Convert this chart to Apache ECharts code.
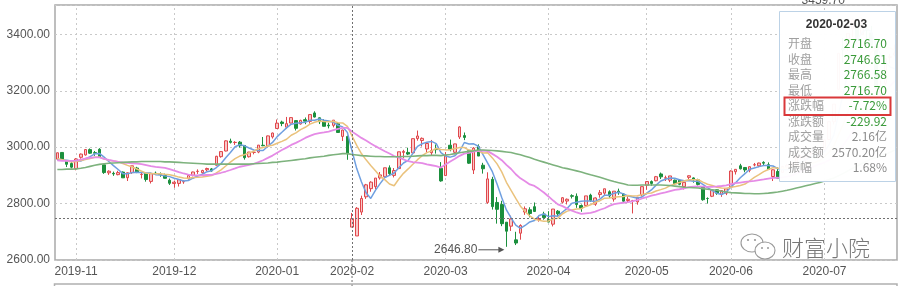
<!DOCTYPE html>
<html><head><meta charset="utf-8">
<script src="https://cdn.jsdelivr.net/npm/echarts/dist/echarts.min.js"></script>
<style>html,body{margin:0;padding:0;background:#fff}#c{width:900px;height:286px}</style>
</head><body><div id="c"></div>
<script>
const dates = ['2019-10-28','2019-10-29','2019-10-30','2019-10-31',
'2019-11-01','2019-11-04','2019-11-05','2019-11-06','2019-11-07','2019-11-08','2019-11-11','2019-11-12','2019-11-13','2019-11-14','2019-11-15','2019-11-18','2019-11-19','2019-11-20','2019-11-21','2019-11-22','2019-11-25','2019-11-26','2019-11-27','2019-11-28','2019-11-29',
'2019-12-02','2019-12-03','2019-12-04','2019-12-05','2019-12-06','2019-12-09','2019-12-10','2019-12-11','2019-12-12','2019-12-13','2019-12-16','2019-12-17','2019-12-18','2019-12-19','2019-12-20','2019-12-23','2019-12-24','2019-12-25','2019-12-26','2019-12-27','2019-12-30','2019-12-31',
'2020-01-02','2020-01-03','2020-01-06','2020-01-07','2020-01-08','2020-01-09','2020-01-10','2020-01-13','2020-01-14','2020-01-15','2020-01-16','2020-01-17','2020-01-20','2020-01-21','2020-01-22','2020-01-23',
'2020-02-03','2020-02-04','2020-02-05','2020-02-06','2020-02-07','2020-02-10','2020-02-11','2020-02-12','2020-02-13','2020-02-14','2020-02-17','2020-02-18','2020-02-19','2020-02-20','2020-02-21','2020-02-24','2020-02-25','2020-02-26','2020-02-27','2020-02-28',
'2020-03-02','2020-03-03','2020-03-04','2020-03-05','2020-03-06','2020-03-09','2020-03-10','2020-03-11','2020-03-12','2020-03-13','2020-03-16','2020-03-17','2020-03-18','2020-03-19','2020-03-20','2020-03-23','2020-03-24','2020-03-25','2020-03-26','2020-03-27','2020-03-30','2020-03-31',
'2020-04-01','2020-04-02','2020-04-03','2020-04-07','2020-04-08','2020-04-09','2020-04-10','2020-04-13','2020-04-14','2020-04-15','2020-04-16','2020-04-17','2020-04-20','2020-04-21','2020-04-22','2020-04-23','2020-04-24','2020-04-27','2020-04-28','2020-04-29','2020-04-30',
'2020-05-06','2020-05-07','2020-05-08','2020-05-11','2020-05-12','2020-05-13','2020-05-14','2020-05-15','2020-05-18','2020-05-19','2020-05-20','2020-05-21','2020-05-22','2020-05-25','2020-05-26','2020-05-27','2020-05-28','2020-05-29',
'2020-06-01','2020-06-02','2020-06-03','2020-06-04','2020-06-05','2020-06-08','2020-06-09','2020-06-10','2020-06-11','2020-06-12','2020-06-15','2020-06-16','2020-06-17','2020-06-18','2020-06-19','2020-06-22','2020-06-23','2020-06-24','2020-06-29','2020-06-30',
'2020-07-01','2020-07-02','2020-07-03','2020-07-06','2020-07-07','2020-07-08','2020-07-09','2020-07-10','2020-07-13','2020-07-14','2020-07-15','2020-07-16','2020-07-17','2020-07-20','2020-07-21','2020-07-22'];

const open = [2957.6,2981.3,2950.0,2942.0,
2924.0,2964.1,2972.4,2991.3,2980.6,2992.5,2937.3,2909.0,2907.2,2902.6,2911.6,2891.8,2909.6,2926.0,2903.0,2907.2,2878.6,2907.6,2904.6,2899.7,2882.9,
2871.0,2871.5,2877.0,2887.9,2900.1,2914.0,2909.5,2919.8,2923.0,2935.8,2966.4,2986.4,3021.3,3016.4,3017.8,3006.0,2966.1,2981.4,2982.6,3006.8,3004.3,3036.4,
3066.3,3089.0,3070.9,3085.5,3094.2,3082.1,3097.5,3091.4,3121.3,3104.1,3092.6,3078.0,3077.3,3083.0,3038.0,3037.9,
2716.7,2685.27,2769.9,2824.0,2852.9,2860.0,2891.0,2895.0,2926.8,2899.9,2924.0,2981.5,2981.4,2979.8,3030.4,3023.7,2993.6,2980.3,2992.5,2924.9,
2899.3,3006.9,2981.8,3036.0,3041.0,2987.2,2918.9,3001.8,2936.0,2804.2,2886.0,2804.0,2797.0,2734.0,2720.0,2671.4,2695.0,2770.0,2778.0,2789.0,2743.0,2763.0,
2743.5,2727.0,2773.0,2805.0,2809.0,2828.0,2826.0,2793.0,2793.0,2830.0,2798.0,2832.0,2837.0,2842.0,2816.0,2844.0,2834.0,2811.0,2809.0,2806.0,2831.0,
2865.0,2878.0,2881.0,2905.0,2890.0,2883.0,2883.0,2883.0,2860.0,2893.0,2891.0,2884.0,2860.0,2818.0,2826.0,2849.0,2833.0,2837.0,
2859.0,2913.0,2934.0,2928.0,2918.0,2937.0,2934.0,2946.0,2938.0,2896.0,2914.0,2910.0,2929.0,2933.0,2937.0,2963.0,2955.0,2976.0,2970.0,2966.0,
2991.0,3027.0,3090.0,3205.0,3350.0,3365.0,3420.0,3437.0,3399.0,3416.0,3405.0,3357.0,3193.0,3226.0,3318.0,3327.0];

const high = [2980.8,2982.6,2954.1,2948.2,
2961.3,2977.4,2993.5,2995.4,2986.5,2996.4,2937.3,2918.0,2913.3,2916.2,2913.9,2910.3,2934.0,2930.3,2911.9,2911.5,2906.2,2913.6,2910.4,2906.3,2888.8,
2881.4,2885.3,2882.4,2903.3,2913.1,2921.3,2920.0,2927.3,2926.2,2969.3,2985.1,3024.2,3030.2,3021.4,3021.6,3006.9,2983.3,2986.8,3007.5,3036.1,3041.0,3051.7,
3098.1,3093.8,3107.2,3105.4,3094.2,3097.3,3105.2,3115.6,3127.2,3105.3,3099.2,3086.6,3096.0,3089.0,3062.0,3041.0,
2766.58,2787.57,2828.0,2869.8,2879.2,2890.5,2912.0,2927.0,2935.4,2926.1,2983.7,2990.6,2998.0,3030.2,3058.9,3034.4,3013.7,3025.6,3009.6,2947.1,
2982.5,3026.8,3012.0,3074.3,3052.0,2989.2,3000.3,3010.0,2944.5,2910.9,2894.9,2823.1,2809.9,2734.6,2757.0,2700.0,2726.6,2789.9,2787.0,2804.0,2758.0,2771.0,
2773.0,2780.8,2777.0,2823.0,2818.0,2833.0,2836.0,2797.0,2827.3,2835.0,2822.0,2848.0,2852.6,2847.0,2844.0,2853.0,2837.0,2826.0,2813.0,2823.0,2860.1,
2879.0,2882.0,2898.0,2910.0,2899.0,2898.1,2885.0,2887.0,2877.0,2900.0,2893.0,2888.0,2860.0,2822.0,2847.0,2851.0,2848.0,2854.0,
2918.0,2922.0,2941.0,2929.0,2932.0,2944.0,2945.0,2950.0,2946.0,2921.0,2928.0,2934.0,2940.0,2947.0,2968.0,2972.0,2973.0,2985.0,2983.0,2987.0,
3026.0,3091.0,3153.0,3333.0,3387.0,3404.0,3456.0,3446.0,3459.7,3431.0,3430.0,3375.0,3237.0,3314.2,3331.0,3364.0];

const low = [2955.4,2952.6,2929.5,2924.6,
2918.0,2959.2,2970.1,2976.2,2969.2,2964.0,2905.3,2901.7,2898.3,2900.2,2890.9,2880.0,2905.4,2908.0,2889.2,2877.7,2871.2,2903.4,2895.0,2889.0,2866.0,
2856.0,2860.4,2870.1,2885.0,2896.6,2905.2,2906.0,2915.3,2913.0,2935.0,2962.7,2985.2,3013.0,3008.0,2998.2,2955.7,2963.2,2974.6,2978.6,3003.6,2998.8,3030.5,
3066.3,3074.5,3065.3,3084.3,3059.1,3080.1,3081.4,3083.6,3105.2,3082.0,3073.4,3066.6,3070.1,3052.0,3022.0,2955.3,
2716.7,2685.27,2759.6,2816.5,2842.0,2850.8,2885.0,2893.0,2899.8,2892.7,2924.0,2960.8,2971.9,2979.8,3023.0,3002.4,2982.0,2971.9,2977.2,2877.5,
2899.3,2985.4,2974.4,3029.0,3025.0,2940.7,2904.8,2968.5,2906.3,2799.0,2778.7,2729.0,2720.0,2646.8,2703.0,2653.0,2672.0,2760.0,2751.0,2770.0,2736.0,2743.0,
2734.0,2719.0,2755.0,2800.0,2797.0,2818.0,2785.0,2771.0,2788.0,2806.0,2792.0,2821.0,2830.0,2820.0,2807.0,2831.0,2804.0,2805.0,2765.0,2796.0,2825.0,
2849.0,2863.0,2879.0,2887.0,2880.0,2876.0,2866.0,2865.0,2850.0,2887.0,2874.0,2864.0,2810.0,2800.0,2823.0,2831.0,2824.0,2830.0,
2859.0,2903.0,2921.0,2911.0,2911.0,2932.0,2929.0,2936.0,2919.0,2880.0,2887.0,2910.0,2924.0,2926.0,2933.0,2955.0,2942.0,2970.0,2958.0,2964.0,
2983.0,3027.0,3080.0,3205.0,3298.0,3341.0,3390.0,3372.0,3398.0,3375.0,3356.0,3205.0,3174.0,3218.0,3296.0,3322.0];

const close = [2980.05,2954.18,2939.32,2929.06,
2958.20,2975.49,2991.56,2978.60,2978.71,2964.18,2909.97,2914.82,2905.24,2909.87,2891.34,2909.20,2933.99,2911.05,2903.64,2885.29,2906.17,2907.06,2903.19,2889.69,2871.98,
2875.81,2884.70,2878.12,2899.47,2912.01,2914.48,2917.32,2924.42,2915.70,2967.68,2984.39,3022.42,3017.04,3017.07,3004.94,2962.75,2982.68,2981.88,3007.35,3005.04,3040.02,3050.12,
3085.20,3083.79,3083.41,3104.80,3066.89,3094.88,3092.29,3115.57,3106.82,3090.04,3074.08,3075.50,3095.79,3052.14,3060.75,2976.53,
2746.61,2783.29,2818.09,2866.51,2875.96,2890.49,2901.67,2926.90,2906.07,2917.01,2983.62,2984.97,2975.40,3030.15,3039.67,3031.23,3013.05,2987.93,2991.33,2880.30,
2970.93,2992.90,3011.67,3071.68,3034.51,2943.29,2996.76,2968.52,2923.49,2887.43,2789.25,2779.64,2728.76,2702.13,2745.62,2660.17,2722.44,2781.59,2764.91,2772.20,2747.21,2750.30,
2734.52,2780.64,2763.99,2820.76,2815.37,2825.90,2796.63,2783.05,2827.28,2811.17,2819.94,2838.49,2852.55,2827.01,2843.98,2838.50,2808.53,2815.49,2810.02,2822.44,2860.08,
2878.14,2871.52,2895.34,2894.80,2891.56,2898.05,2870.34,2868.46,2875.42,2898.58,2883.74,2867.92,2813.77,2817.97,2846.55,2836.80,2846.22,2852.35,
2915.43,2921.40,2923.37,2919.25,2930.80,2937.77,2943.75,2943.32,2920.90,2919.74,2890.03,2931.75,2935.87,2939.32,2967.63,2965.27,2970.62,2979.55,2961.52,2984.67,
3025.98,3090.57,3152.81,3332.88,3345.34,3403.44,3450.59,3383.32,3443.29,3414.62,3361.30,3210.10,3214.13,3314.15,3320.90,3333.16];

const ma5 = [2954.2,2954.2,2953.8,2951.4,2952.0,2951.0,2958.6,2966.6,2976.6,2977.8,
2964.8,2949.4,2934.6,2920.8,2906.2,2906.0,2909.8,2911.0,2909.8,2908.6,
2908.0,2902.6,2901.0,2898.2,2895.6,2889.6,2885.2,2880.2,2882.0,2890.0,
2897.6,2904.0,2913.2,2916.6,2927.8,2941.8,2962.8,2981.4,3001.6,3009.0,
3004.8,2997.0,2990.0,2988.0,2988.0,3003.4,3016.8,3037.4,3052.8,3068.4,
3081.4,3084.8,3086.8,3088.4,3095.0,3095.4,3100.0,3095.8,3092.6,3088.6,
3077.6,3071.8,3052.4,2986.6,2924.0,2877.2,2838.4,2818.2,2846.8,2870.6,
2892.4,2900.2,2908.4,2927.2,2943.8,2953.4,2978.2,3002.8,3012.2,3017.8,
3020.4,3012.6,2980.6,2968.6,2964.6,2969.4,2985.6,3016.6,3011.0,3011.8,
3003.2,2973.4,2943.8,2913.0,2869.6,2821.6,2777.4,2749.2,2723.4,2711.8,
2722.4,2735.0,2740.2,2757.6,2763.2,2753.8,2757.0,2755.4,2770.2,2783.2,
2801.4,2804.6,2808.4,2809.6,2808.8,2807.6,2815.8,2829.8,2829.8,2836.4,
2840.2,2834.4,2826.8,2823.4,2819.0,2823.2,2837.0,2848.4,2865.4,2880.0,
2886.4,2890.4,2890.0,2884.6,2880.6,2882.0,2879.2,2878.8,2868.0,2856.6,
2846.2,2836.8,2832.4,2840.0,2859.4,2874.2,2891.4,2906.0,2921.8,2926.4,
2931.0,2935.0,2935.4,2933.2,2923.6,2921.2,2919.8,2923.4,2933.0,2948.0,
2955.8,2964.6,2969.2,2972.6,2984.8,3008.8,3043.4,3117.6,3189.6,3265.0,
3337.0,3383.0,3405.0,3419.0,3410.6,3362.4,3328.6,3302.8,3284.0,3278.4];

const ma10 = [2959.6,2955.8,2951.9,2947.1,2949.1,2952.6,2956.4,2960.2,2964.0,2964.9,
2957.9,2954.0,2950.6,2948.7,2942.0,2935.4,2929.6,2922.8,2915.3,2907.4,
2907.0,2906.2,2906.0,2904.0,2902.1,2898.8,2893.9,2890.6,2890.1,2892.8,
2893.6,2894.6,2896.7,2899.3,2908.9,2919.7,2933.4,2947.3,2959.1,2968.4,
2973.3,2979.9,2985.7,2994.8,2998.5,3004.1,3006.9,3013.7,3020.4,3028.2,
3042.4,3050.8,3062.1,3070.6,3081.7,3088.4,3092.4,3091.3,3090.5,3091.8,
3086.5,3085.9,3074.1,3039.6,3006.3,2977.4,2955.1,2935.3,2916.7,2897.3,
2884.8,2869.3,2863.3,2887.0,2907.2,2922.9,2939.2,2955.6,2969.7,2980.8,
2986.9,2995.4,2991.7,2990.4,2991.2,2994.9,2999.1,2998.6,2989.8,2988.2,
2986.3,2979.5,2980.2,2962.0,2940.7,2912.4,2875.4,2846.5,2818.2,2790.7,
2772.0,2756.2,2744.7,2740.5,2737.5,2738.1,2746.0,2747.8,2763.9,2773.2,
2777.6,2780.8,2781.9,2789.9,2796.0,2804.5,2810.2,2819.1,2819.7,2822.6,
2823.9,2825.1,2828.3,2826.6,2827.7,2831.7,2835.7,2837.6,2844.4,2849.5,
2854.8,2863.7,2869.2,2875.0,2880.3,2884.2,2884.8,2884.4,2876.3,2868.6,
2864.1,2858.0,2855.6,2854.0,2858.0,2860.2,2864.1,2869.2,2880.9,2892.9,
2902.6,2913.2,2920.7,2927.5,2925.0,2926.1,2927.4,2929.4,2933.1,2935.8,
2938.5,2942.2,2946.3,2952.8,2966.4,2982.3,3004.0,3043.4,3081.1,3124.9,
3172.9,3213.2,3261.3,3304.3,3337.8,3349.7,3355.8,3353.9,3351.5,3344.5];

const ma20 = [2953.5,2951.9,2951.1,2951.1,2952.4,2955.9,2959.8,2962.5,2964.1,2963.7,
2958.8,2954.9,2951.3,2947.9,2945.6,2944.0,2943.0,2941.5,2939.7,2936.2,
2932.5,2930.1,2928.3,2926.4,2922.1,2917.1,2911.8,2906.7,2902.7,2900.1,
2900.3,2900.4,2901.4,2901.7,2905.5,2909.3,2913.7,2919.0,2924.6,2930.6,
2933.5,2937.3,2941.2,2947.1,2953.7,2961.9,2970.2,2980.5,2989.8,2998.3,
3007.9,3015.4,3023.9,3032.7,3040.1,3046.3,3049.7,3052.5,3055.5,3060.0,
3064.5,3068.4,3068.1,3055.1,3044.0,3032.9,3023.8,3013.3,3003.6,2994.6,
2985.7,2977.6,2968.7,2963.3,2956.8,2950.2,2947.2,2945.5,2943.2,2939.0,
2935.9,2932.4,2927.5,2938.7,2949.2,2958.9,2969.2,2977.1,2979.8,2984.5,
2986.6,2987.5,2986.0,2976.2,2966.0,2953.7,2937.3,2922.6,2904.0,2889.5,
2879.2,2867.9,2862.5,2851.3,2839.1,2825.3,2810.7,2797.2,2791.1,2782.0,
2774.8,2768.5,2763.3,2765.2,2766.8,2771.3,2778.1,2783.5,2791.8,2797.9,
2800.8,2803.0,2805.1,2808.3,2811.9,2818.1,2823.0,2828.4,2832.1,2836.1,
2839.4,2844.4,2848.8,2850.8,2854.0,2858.0,2860.3,2861.0,2860.4,2859.1,
2859.5,2860.9,2862.4,2864.5,2869.2,2872.2,2874.5,2876.8,2878.6,2880.8,
2883.4,2885.6,2888.2,2890.8,2891.5,2893.2,2895.8,2899.3,2907.0,2914.4,
2920.6,2927.7,2933.5,2940.2,2945.7,2954.2,2965.7,2986.4,3007.1,3030.4,
3055.7,3077.7,3103.8,3128.6,3152.1,3166.0,3179.9,3198.7,3216.3,3234.7];

const ma60 = [2921,2921,2922,2922,2923,2925,2928,2932,2936,2939,
2941,2943,2944,2945,2946,2947,2948,2948,2949,2949,
2949,2949,2949,2948,2948,2947,2946,2945,2944,2943,
2942,2941,2940,2940,2940,2940,2940,2940,2940,2940,
2940,2940,2941,2942,2943,2944,2946,2947,2949,2951,
2953,2955,2957,2959,2962,2964,2966,2968,2971,2973,
2975,2977,2977,2974,2972,2970,2969,2968,2967,2967,
2966,2966,2966,2966,2967,2967,2968,2969,2970,2970,
2971,2971,2970,2972,2974,2977,2980,2983,2985,2987,
2990,2990,2989,2988,2987,2985,2983,2981,2977,2973,
2968,2963,2957,2952,2947,2942,2937,2932,2927,2924,
2920,2916,2912,2907,2902,2898,2893,2888,2883,2878,
2874,2870,2866,2865,2865,2866,2866,2866,2866,2866,
2865,2864,2862,2860,2858,2857,2856,2855,2853,2851,
2849,2847,2844,2841,2839,2838,2837,2836,2836,2835,
2835,2836,2837,2839,2841,2844,2847,2851,2855,2859,
2863,2867,2871,2875,2880,2885,2891,2899,2907,2916,
2925,2933,2942,2950,2958,2963,2968,2975,2982,2989];

const monthStarts = ['2019-11-01','2019-12-02','2020-01-02','2020-02-03','2020-03-02','2020-04-01','2020-05-06','2020-06-01','2020-07-01'];
const cursorDate = '2020-02-03';
const cursorPrice = 2746.61;
const tipTitle = '2020-02-03';
const tipLabels = ['开盘','收盘','最高','最低','涨跌幅','涨跌额','成交量','成交额','振幅'];
const tipValues = ['2716.70','2746.61','2766.58','2716.70','-7.72%','-229.92','2.16亿','2570.20亿','1.68%'];
const tipGreen = [true,true,true,true,true,true,false,false,false];
const watermark = '财富小院';

const NUMF = '"Liberation Sans", Arial, sans-serif';
const CJKF = '"Noto Sans CJK SC", "Liberation Sans", sans-serif';

const chart = echarts.init(document.getElementById('c'), null, {renderer: 'canvas'});
const kData = dates.map((d, i) => [open[i], close[i], low[i], high[i]]);

const option = {
  animation: false,
  backgroundColor: '#ffffff',
  grid: {left: 55, top: 5, width: 842, height: 255, show: true, borderColor: '#a9a9a9', borderWidth: 1.5, outerBoundsMode: 'none', containLabel: false},
  xAxis: {
    type: 'category', data: dates, boundaryGap: true,
    axisLine: {show: false}, axisTick: {show: false}, splitLine: {show: false},
    axisLabel: {
      interval: (i, v) => monthStarts.indexOf(v) >= 0,
      formatter: v => v.slice(0, 7),
      color: '#555', fontSize: 12, margin: 6, fontFamily: NUMF,
      hideOverlap: false
    }
  },
  yAxis: {
    type: 'value', min: 2600, max: 3504, interval: 200, scale: false,
    axisLine: {show: false}, axisTick: {show: false},
    splitLine: {show: true, lineStyle: {type: [2, 3], color: '#c9c9c9', width: 1}},
    axisLabel: {formatter: v => v.toFixed(2), showMaxLabel: false, color: '#555', fontSize: 12, margin: 5, fontFamily: NUMF}
  },
  series: [
    {
      type: 'candlestick', name: 'K', data: kData, z: 2, barWidth: '66%',
      itemStyle: {color: '#f8c8c8', color0: '#1b8f3d', borderColor: '#e0474c', borderColor0: '#1b8f3d', borderWidth: 1},
      markLine: {
        symbol: 'none', silent: true, z: 6, animation: false,
        label: {show: false},
        lineStyle: {type: [2, 2], color: '#707070', width: 1},
        data: [{xAxis: cursorDate}, {yAxis: cursorPrice}]
      }
    },
    {type: 'line', name: 'MA5', data: ma5, showSymbol: false, z: 3, lineStyle: {color: '#6f9fe0', width: 1.5}, itemStyle: {color: '#6f9fe0'}},
    {type: 'line', name: 'MA10', data: ma10, showSymbol: false, z: 3, lineStyle: {color: '#eac27c', width: 1.5}, itemStyle: {color: '#eac27c'}},
    {type: 'line', name: 'MA20', data: ma20, showSymbol: false, z: 3, lineStyle: {color: '#e58be6', width: 1.8}, itemStyle: {color: '#e58be6'}},
    {type: 'line', name: 'MA60', data: ma60, showSymbol: false, z: 3, lineStyle: {color: '#7db27d', width: 1.6}, itemStyle: {color: '#7db27d'},
      markLine: {
        symbol: 'none', silent: true, z: 1, animation: false,
        label: {show: false},
        lineStyle: {type: [2, 3], color: '#c9c9c9', width: 1},
        data: monthStarts.filter(d => d !== cursorDate).map(d => ({xAxis: d}))
      }
    }
  ]
};
chart.setOption(option);

// overlay positions derived through the chart's own scales
const gridBottom = chart.convertToPixel({yAxisIndex: 0}, 2600);
const xCursor = chart.convertToPixel({xAxisIndex: 0}, dates.indexOf(cursorDate));
const minIdx = low.indexOf(Math.min(...low));
const maxIdx = high.indexOf(Math.max(...high));
const pMin = chart.convertToPixel({gridIndex: 0}, [minIdx, low[minIdx]]);
const pMax = chart.convertToPixel({gridIndex: 0}, [maxIdx, high[maxIdx]]);

const g = [];
function txt(x, y, s, opt) {
  return {type: 'text', x: x, y: y, z: opt.z || 100, z2: 2, silent: true,
    style: {text: s, fill: opt.fill || '#555', font: opt.font, align: opt.align || 'left', textAlign: opt.align || 'left',
      verticalAlign: opt.va || 'middle', textVerticalAlign: opt.va || 'middle'}};
}
// crosshair extension below the plot
g.push({type: 'line', z: 6, silent: true, shape: {x1: xCursor, y1: gridBottom, x2: xCursor, y2: 286}, style: {stroke: '#707070', lineWidth: 1, lineDash: [2, 2]}});
// lower panel frame
g.push({type: 'rect', z: 6, silent: true, shape: {x: 54.5, y: 284, width: 842.5, height: 12}, style: {fill: 'none', stroke: '#b0b0b0', lineWidth: 1.5}});
// min marker
const myMin = pMin[1] + 3;
g.push(txt(pMin[0] - 29, myMin, low[minIdx].toFixed(2), {font: '12px ' + NUMF, align: 'right', fill: '#555', z: 10}));
g.push({type: 'line', z: 10, silent: true, shape: {x1: pMin[0] - 28, y1: myMin, x2: pMin[0] - 5, y2: myMin}, style: {stroke: '#555', lineWidth: 1}});
g.push({type: 'polygon', z: 10, silent: true, shape: {points: [[pMin[0] - 2, myMin], [pMin[0] - 8, myMin - 3], [pMin[0] - 8, myMin + 3]]}, style: {fill: '#555'}});
// max marker (mostly hidden by the tooltip)
g.push(txt(pMax[0] - 17, 7, high[maxIdx].toFixed(2), {font: '12px ' + NUMF, align: 'right', va: 'bottom', fill: '#555', z: 10}));

// tooltip box
const bx = 779.5, by = 11.5, bw = 116, bh = 170;
g.push({type: 'rect', z: 100, z2: 0, silent: true, shape: {x: bx, y: by, width: bw, height: bh}, style: {fill: 'rgba(255,255,255,0.97)', stroke: '#bcd2e6', lineWidth: 1}});
g.push(txt(bx + bw / 2 - 1, 25, tipTitle, {font: 'bold 12px ' + NUMF, align: 'center', fill: '#333'}));
tipLabels.forEach((lab, k) => {
  const y = 43.5 + k * 15.55;
  g.push(txt(788, y, lab, {font: '12px ' + CJKF, fill: '#a0a0a0'}));
  g.push(txt(887, y, tipValues[k], {font: '12px ' + CJKF, align: 'right', fill: tipGreen[k] ? '#3a9a3a' : '#8c8c8c'}));
});
g.push({type: 'rect', z: 100, z2: 5, silent: true, shape: {x: 784.5, y: 97.5, width: 106, height: 17.5}, style: {fill: 'none', stroke: '#d9383a', lineWidth: 2}});

// watermark
g.push({type: 'ellipse', z: 100, z2: 1, silent: true, shape: {cx: 752, cy: 243, rx: 11, ry: 9}, style: {fill: 'none', stroke: '#999', lineWidth: 1.1}});
g.push({type: 'ellipse', z: 100, z2: 2, silent: true, shape: {cx: 765, cy: 250.5, rx: 10, ry: 8.5}, style: {fill: '#ffffff', stroke: '#999', lineWidth: 1.1}});
g.push({type: 'circle', z: 100, z2: 3, silent: true, shape: {cx: 748, cy: 240, r: 1.1}, style: {fill: '#999'}});
g.push({type: 'circle', z: 100, z2: 3, silent: true, shape: {cx: 755, cy: 240, r: 1.1}, style: {fill: '#999'}});
g.push({type: 'circle', z: 100, z2: 3, silent: true, shape: {cx: 762, cy: 248, r: 1}, style: {fill: '#999'}});
g.push({type: 'circle', z: 100, z2: 3, silent: true, shape: {cx: 768, cy: 248, r: 1}, style: {fill: '#999'}});
g.push(txt(782, 248, watermark, {font: '300 22px ' + CJKF, fill: '#777'}));

chart.setOption({graphic: {elements: g}});
</script></body></html>
